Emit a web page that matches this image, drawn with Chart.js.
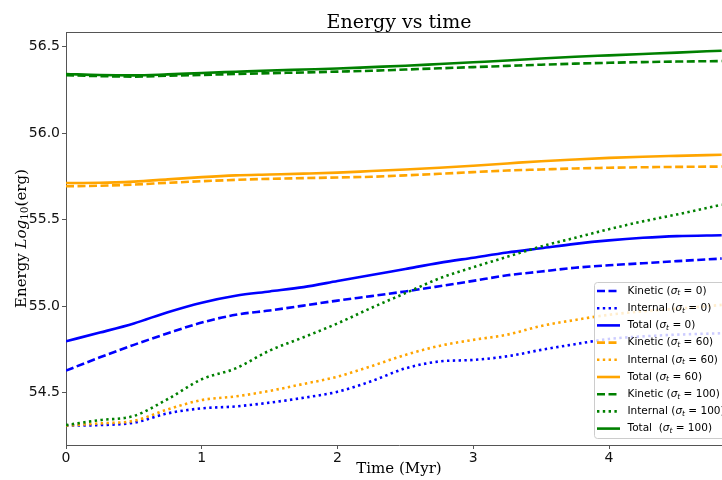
<!DOCTYPE html>
<html>
<head>
<meta charset="utf-8">
<script src="https://cdn.jsdelivr.net/npm/chart.js@4.4.1/dist/chart.umd.min.js"></script>
<style>
    html, body { margin: 0; padding: 0; background: #fff; overflow: hidden; }
    #wrap { width: 722px; height: 480px; overflow: hidden; }
</style>
</head>
<body>
<div id="wrap"><canvas id="myChart" width="736" height="480"></canvas></div>
<script>
// time axis (Myr)
const times = [0, 0.25, 0.5, 0.75, 1, 1.25, 1.5, 1.75, 2, 2.25, 2.5, 2.75, 3, 3.25, 3.5, 3.75, 4, 4.25, 4.5, 4.83];

// log10 energy, sigma_t = 0
const kinetic0 = [54.627, 54.704, 54.776, 54.843, 54.905, 54.95, 54.975, 55.003, 55.032, 55.058, 55.085, 55.115, 55.146, 55.178, 55.2, 55.222, 55.236, 55.248, 55.26, 55.275];
const internal0 = [54.309, 54.312, 54.326, 54.38, 54.409, 54.42, 54.442, 54.47, 54.505, 54.566, 54.64, 54.68, 54.689, 54.71, 54.747, 54.78, 54.81, 54.825, 54.835, 54.843];
const total0 = [54.797, 54.847, 54.9, 54.965, 55.02, 55.06, 55.085, 55.11, 55.145, 55.18, 55.215, 55.25, 55.28, 55.31, 55.335, 55.36, 55.38, 55.395, 55.405, 55.41];

// sigma_t = 60
const kinetic60 = [55.693, 55.696, 55.703, 55.713, 55.722, 55.73, 55.736, 55.74, 55.744, 55.748, 55.756, 55.765, 55.775, 55.784, 55.79, 55.796, 55.8, 55.803, 55.805, 55.807];
const internal60 = [54.309, 54.322, 54.337, 54.403, 54.457, 54.478, 54.51, 54.55, 54.592, 54.653, 54.718, 54.77, 54.805, 54.835, 54.885, 54.92, 54.95, 54.97, 54.985, 55.007];
const total60 = [55.712, 55.713, 55.72, 55.733, 55.746, 55.756, 55.761, 55.766, 55.772, 55.781, 55.79, 55.8, 55.812, 55.825, 55.838, 55.848, 55.857, 55.864, 55.869, 55.875];

// sigma_t = 100
const kinetic100 = [56.335, 56.33, 56.327, 56.332, 56.337, 56.342, 56.347, 56.351, 56.356, 56.361, 56.368, 56.375, 56.382, 56.389, 56.396, 56.402, 56.407, 56.411, 56.414, 56.417];
const internal100 = [54.312, 54.341, 54.365, 54.463, 54.577, 54.64, 54.743, 54.82, 54.9, 54.99, 55.075, 55.16, 55.225, 55.285, 55.345, 55.395, 55.445, 55.49, 55.53, 55.586];
const total100 = [56.342, 56.336, 56.334, 56.34, 56.348, 56.355, 56.362, 56.368, 56.374, 56.382, 56.39, 56.4, 56.41, 56.42, 56.432, 56.442, 56.45, 56.458, 56.466, 56.477];

const xTicks = [0, 1, 2, 3, 4];
const yTicks = [54.5, 55.0, 55.5, 56.0, 56.5];

const series = [
    { kind: "Kinetic", sigma: "0", values: kinetic0, color: "#0000ff", style: "dashed" },
    { kind: "Internal", sigma: "0", values: internal0, color: "#0000ff", style: "dotted" },
    { kind: "Total", sigma: "0", values: total0, color: "#0000ff", style: "solid" },
    { kind: "Kinetic", sigma: "60", values: kinetic60, color: "#ffa500", style: "dashed" },
    { kind: "Internal", sigma: "60", values: internal60, color: "#ffa500", style: "dotted" },
    { kind: "Total", sigma: "60", values: total60, color: "#ffa500", style: "solid" },
    { kind: "Kinetic", sigma: "100", values: kinetic100, color: "#008000", style: "dashed" },
    { kind: "Internal", sigma: "100", values: internal100, color: "#008000", style: "dotted" },
    { kind: "Total ", sigma: "100", values: total100, color: "#008000", style: "solid" },
];

const dashes = { dashed: [8, 3.5], dotted: [2.4, 3.4], solid: [] };
const LW = 2.6;
const SERIF = "'DejaVu Serif'";

const datasets = series.map((s, i) => ({
    label: s.kind + " (σt = " + s.sigma + ")",
    data: times.map((t, k) => ({ x: t, y: s.values[k] })),
    borderColor: s.color,
    borderWidth: LW,
    borderDash: dashes[s.style],
    borderCapStyle: "butt",
    fill: false,
    pointRadius: 0,
    pointHoverRadius: 0,
    cubicInterpolationMode: "monotone",
    order: series.length - i,
}));

function drawMath(ctx, x, y, parts) {
    // parts: [text, font, dy]
    let cx = x;
    parts.forEach((p) => {
        ctx.font = p[1];
        ctx.fillText(p[0], cx, y + (p[2] || 0));
        cx += ctx.measureText(p[0]).width;
    });
}

const decorations = {
    id: "decorations",
    afterDraw(chart) {
        const ctx = chart.ctx;
        const area = chart.chartArea;
        ctx.save();

        // top spine
        ctx.strokeStyle = "#555";
        ctx.lineWidth = 1;
        ctx.beginPath();
        ctx.moveTo(area.left, area.top + 0.5);
        ctx.lineTo(area.right, area.top + 0.5);
        ctx.stroke();

        // title
        ctx.fillStyle = "#000";
        ctx.textAlign = "center";
        ctx.textBaseline = "alphabetic";
        ctx.font = "19px " + SERIF;
        ctx.fillText("Energy vs time", (area.left + area.right) / 2, 28);

        // y axis title
        ctx.save();
        ctx.translate(22, (area.top + area.bottom) / 2);
        ctx.rotate(-Math.PI / 2);
        ctx.textAlign = "left";
        ctx.textBaseline = "middle";
        const yParts = [
            ["Energy ", "15px " + SERIF],
            ["Log", "italic 15px " + SERIF],
            ["10", "10.5px " + SERIF, 3.5],
            ["(erg)", "15px " + SERIF],
        ];
        let w = 0;
        yParts.forEach((p) => {
            ctx.font = p[1];
            w += ctx.measureText(p[0]).width;
        });
        drawMath(ctx, -w / 2, 0, yParts);
        ctx.restore();

        // legend box
        const bx = 594.5, by = 282.5, bw = 200, bh = 156;
        ctx.fillStyle = "rgba(255,255,255,0.8)";
        ctx.strokeStyle = "#cccccc";
        ctx.lineWidth = 1;
        ctx.beginPath();
        ctx.roundRect(bx, by, bw, bh, 3);
        ctx.fill();
        ctx.stroke();

        ctx.textAlign = "left";
        ctx.textBaseline = "middle";
        series.forEach((s, i) => {
            const ry = 291 + i * 17.2;
            ctx.strokeStyle = s.color;
            ctx.lineWidth = LW;
            ctx.lineCap = "butt";
            ctx.setLineDash(dashes[s.style]);
            ctx.beginPath();
            ctx.moveTo(597, ry);
            ctx.lineTo(620, ry);
            ctx.stroke();
            ctx.setLineDash([]);
            ctx.fillStyle = "#000";
            drawMath(ctx, 627.5, ry, [
                [s.kind + " (", "10.5px 'DejaVu Sans'"],
                ["σ", "oblique 10.5px 'DejaVu Sans'"],
                ["t", "oblique 7.5px 'DejaVu Sans'", 2.5],
                [" = " + s.sigma + ")", "10.5px 'DejaVu Sans'"],
            ]);
        });

        ctx.restore();
    },
};

const ctx = document.getElementById("myChart");
const chart = new Chart(ctx, {
    type: "line",
    data: { datasets: datasets },
    options: {
        responsive: false,
        animation: false,
        layout: { padding: { top: 32, right: 4, left: 0, bottom: 0 } },
        plugins: {
            legend: { display: false },
            title: { display: false },
            tooltip: { enabled: false },
        },
        scales: {
            x: {
                type: "linear",
                min: 0,
                max: 4.906,
                afterFit: (scale) => { scale.height = 35; },
                afterBuildTicks: (scale) => { scale.ticks = xTicks.map((v) => ({ value: v })); },
                grid: { drawOnChartArea: false, drawTicks: true, tickLength: 4, tickColor: "#555" },
                border: { display: true, color: "#555", width: 1 },
                ticks: {
                    padding: 1,
                    color: "#111",
                    font: { family: "DejaVu Sans", size: 14 },
                    maxRotation: 0,
                    callback: (v) => String(v),
                },
                title: {
                    display: true,
                    text: "Time (Myr)",
                    color: "#000",
                    font: { family: "DejaVu Serif", size: 15 },
                    padding: { top: 0, bottom: 2 },
                },
            },
            y: {
                type: "linear",
                min: 54.197,
                max: 56.585,
                afterFit: (scale) => { scale.width = 66; },
                afterBuildTicks: (scale) => { scale.ticks = yTicks.map((v) => ({ value: v })); },
                grid: { drawOnChartArea: false, drawTicks: true, tickLength: 4, tickColor: "#555" },
                border: { display: true, color: "#555", width: 1 },
                ticks: {
                    padding: 2,
                    color: "#111",
                    font: { family: "DejaVu Sans", size: 14 },
                    callback: (v) => v.toFixed(1),
                },
            },
        },
    },
    plugins: [decorations],
});
</script>
</body>
</html>
